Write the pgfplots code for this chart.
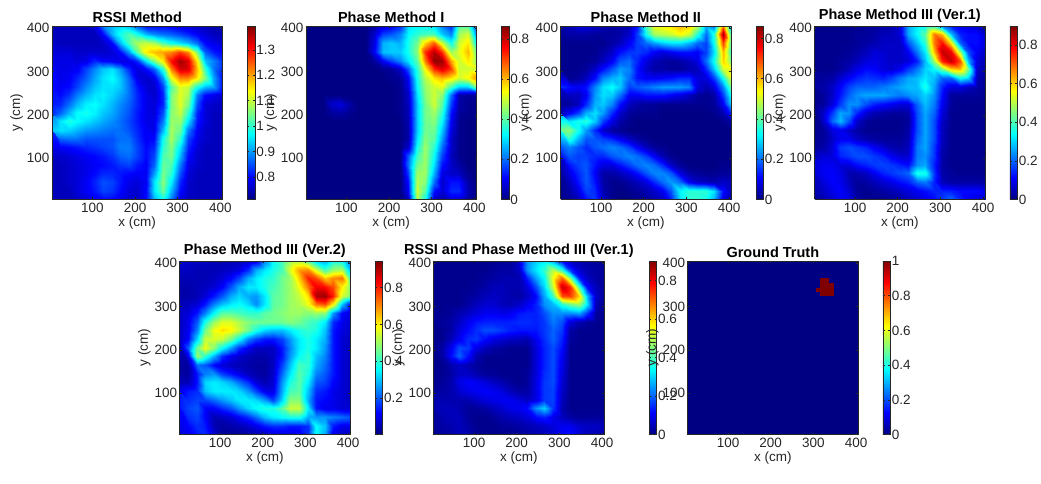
\documentclass[border=0pt]{standalone}
\usepackage{fontspec}
\setmainfont{Liberation Sans}
\usepackage{pgfplots}
\pgfplotsset{compat=1.18}
\pgfkeys{/pgf/number format/assume math mode=true}
\definecolor{axgray}{rgb}{0.15,0.15,0.15}
\definecolor{jetzero}{rgb}{0,0,0.5156}
\newcommand{\tf}{\fontsize{13.6}{15}\selectfont}
\pgfplotsset{
 colormap={mjet}{rgb255(0cm)=(0,0,132); rgb255(1cm)=(0,0,255); rgb255(3cm)=(0,255,255); rgb255(5cm)=(255,255,0); rgb255(7cm)=(255,0,0); rgb255(8cm)=(128,0,0)},
 hm/.style={
  scale only axis, width=172pt, height=175pt, anchor=south west,
  xmin=5, xmax=405, ymin=5, ymax=405,
  xtick={100,200,300,400}, ytick={100,200,300,400},
  tick align=inside, major tick length=2pt, axis on top, view={0}{90},
  axis line style={axgray,line width=0.5pt}, tick style={axgray,line width=0.5pt},
  tick label style={font=\tf,text=axgray},
  label style={font=\tf,text=axgray},
  xlabel={x (cm)}, ylabel={y (cm)},
  xlabel style={yshift=3pt}, ylabel style={yshift=-3pt},
  xticklabel style={yshift=0pt}, yticklabel style={xshift=1pt},
  title style={font=\fontsize{14.6}{16}\selectfont\bfseries,yshift=-6pt,text=black},
  colormap name=mjet,
  colorbar, colorbar shift/.style={xshift=12.5pt},
 },
 cb/.style n args={3}{point meta min=#1, point meta max=#2,
  colorbar style={width=7.5pt, ytick={#3}, tick align=inside, major tick length=2pt,
   axis line style={axgray,line width=0.5pt}, tick style={axgray,line width=0.5pt},
   tick label style={font=\tf,text=axgray}, yticklabel style={xshift=-2pt},
   /pgf/number format/fixed, /pgf/number format/precision=1}},
 grid21/.style={surf, shader=interp, mesh/cols=21},
 table/grid21tab/.style={row sep=\\, header=false, x expr={5+20*mod(\coordindex,21)}, y expr={405-20*floor(\coordindex/21)}, z expr={\thisrowno{0}/100}},
}
\begin{document}
\begin{tikzpicture}
\path (0,0) rectangle (1041pt,487pt);
% RSSI Method
\begin{axis}[hm, at={(52.3pt,286pt)}, title={RSSI Method}, cb={0.711}{1.395}{0.8,0.9,1,1.1,1.2,1.3}]
\addplot3[grid21] table[grid21tab]{
75\\75\\75\\75\\75\\78\\88\\92\\94\\92\\86\\80\\80\\80\\79\\78\\77\\76\\75\\74\\74\\
75\\75\\75\\75\\75\\75\\80\\92\\98\\102\\98\\92\\89\\87\\86\\84\\82\\79\\77\\75\\75\\
76\\75\\75\\75\\75\\75\\76\\80\\92\\102\\108\\110\\108\\102\\98\\95\\92\\87\\80\\78\\76\\
77\\77\\77\\76\\76\\76\\76\\77\\80\\90\\103\\115\\118\\120\\122\\127\\122\\105\\86\\81\\80\\
78\\78\\78\\77\\78\\82\\80\\79\\78\\78\\82\\95\\105\\115\\130\\137\\133\\115\\93\\88\\83\\
79\\78\\78\\79\\84\\89\\93\\95\\90\\82\\77\\80\\86\\100\\122\\134\\133\\118\\100\\87\\82\\
80\\78\\79\\82\\86\\91\\95\\97\\93\\86\\78\\76\\78\\90\\112\\122\\122\\115\\105\\90\\80\\
80\\79\\80\\84\\89\\93\\95\\95\\93\\87\\81\\77\\76\\84\\102\\112\\110\\98\\92\\90\\80\\
80\\80\\83\\88\\92\\95\\96\\94\\91\\87\\82\\78\\76\\82\\105\\112\\108\\88\\80\\78\\76\\
81\\82\\87\\92\\96\\97\\95\\92\\89\\86\\82\\78\\77\\82\\105\\112\\105\\85\\77\\76\\75\\
82\\86\\92\\97\\98\\96\\93\\91\\88\\85\\81\\78\\77\\85\\106\\110\\100\\82\\77\\75\\75\\
88\\95\\99\\97\\95\\93\\91\\89\\87\\84\\81\\78\\78\\88\\107\\107\\95\\81\\77\\75\\75\\
93\\95\\94\\92\\90\\89\\88\\87\\87\\85\\82\\79\\78\\92\\108\\104\\88\\79\\76\\75\\75\\
83\\86\\87\\87\\85\\85\\85\\85\\87\\87\\83\\79\\80\\98\\108\\100\\84\\78\\76\\75\\75\\
78\\79\\80\\81\\82\\83\\84\\85\\88\\88\\84\\80\\82\\100\\106\\95\\82\\77\\75\\75\\75\\
76\\76\\77\\78\\79\\80\\81\\83\\86\\87\\84\\80\\84\\102\\105\\92\\80\\76\\75\\75\\75\\
75\\75\\76\\77\\78\\79\\80\\81\\83\\84\\81\\79\\86\\104\\102\\88\\78\\76\\75\\75\\75\\
75\\75\\76\\77\\78\\80\\82\\82\\81\\80\\79\\79\\90\\105\\100\\85\\77\\75\\75\\75\\75\\
75\\75\\76\\77\\79\\82\\85\\84\\81\\78\\77\\79\\95\\106\\96\\82\\76\\75\\75\\75\\75\\
75\\75\\75\\77\\79\\81\\84\\83\\80\\77\\76\\80\\95\\104\\92\\80\\76\\75\\75\\75\\75\\
75\\75\\75\\76\\77\\79\\80\\80\\78\\76\\76\\80\\92\\98\\88\\78\\75\\75\\75\\75\\75\\
};
\end{axis}
% Phase Method I
\begin{axis}[hm, at={(308.3pt,286pt)}, title={Phase Method I}, cb={0}{0.866}{0,0.2,0.4,0.6,0.8}]
\addplot3[grid21] table[grid21tab]{
0\\0\\0\\0\\0\\0\\0\\0\\2\\8\\10\\14\\30\\32\\33\\30\\22\\14\\40\\40\\14\\
0\\0\\0\\0\\0\\0\\0\\0\\6\\16\\18\\22\\32\\36\\38\\38\\28\\22\\46\\50\\20\\
0\\0\\0\\0\\0\\0\\0\\0\\8\\26\\28\\26\\34\\42\\58\\68\\50\\34\\50\\56\\30\\
0\\0\\0\\0\\0\\0\\0\\0\\10\\27\\28\\28\\34\\44\\72\\82\\72\\46\\52\\60\\40\\
0\\0\\0\\0\\0\\0\\0\\0\\2\\10\\16\\22\\30\\40\\65\\85\\84\\62\\50\\56\\44\\
0\\0\\0\\0\\0\\0\\0\\0\\0\\1\\2\\6\\18\\36\\54\\72\\78\\70\\50\\50\\50\\
0\\0\\0\\0\\0\\0\\0\\0\\0\\0\\1\\2\\10\\34\\48\\56\\60\\56\\50\\54\\64\\
0\\0\\0\\0\\0\\0\\0\\0\\0\\0\\0\\1\\8\\32\\45\\50\\52\\38\\28\\28\\44\\
0\\0\\0\\0\\0\\0\\0\\0\\0\\0\\0\\1\\6\\30\\44\\50\\44\\20\\3\\2\\2\\
0\\0\\0\\6\\8\\3\\0\\0\\0\\0\\0\\1\\5\\28\\42\\50\\40\\16\\3\\1\\1\\
0\\0\\0\\2\\3\\1\\0\\0\\0\\0\\0\\1\\4\\28\\42\\46\\36\\12\\2\\1\\1\\
0\\0\\0\\0\\0\\0\\0\\0\\0\\0\\0\\0\\4\\28\\42\\44\\32\\10\\1\\0\\0\\
0\\0\\0\\0\\0\\0\\0\\0\\0\\0\\0\\0\\3\\28\\42\\42\\28\\8\\1\\0\\0\\
0\\0\\0\\0\\0\\0\\0\\0\\0\\0\\0\\0\\3\\30\\44\\40\\24\\6\\1\\0\\0\\
0\\0\\0\\0\\0\\0\\0\\0\\0\\0\\0\\0\\6\\34\\46\\36\\20\\6\\1\\0\\0\\
0\\0\\0\\0\\0\\0\\0\\0\\0\\0\\0\\0\\18\\38\\46\\33\\16\\5\\1\\0\\0\\
0\\0\\0\\0\\0\\0\\0\\0\\0\\0\\0\\0\\20\\42\\46\\30\\12\\6\\3\\0\\0\\
0\\0\\0\\0\\0\\0\\0\\0\\0\\0\\0\\0\\16\\46\\46\\26\\8\\6\\5\\1\\0\\
0\\0\\0\\0\\0\\0\\0\\0\\0\\0\\0\\0\\12\\48\\44\\20\\6\\12\\12\\3\\0\\
0\\0\\0\\0\\0\\0\\0\\0\\0\\0\\0\\0\\10\\50\\40\\12\\7\\14\\14\\4\\0\\
0\\0\\0\\0\\0\\0\\0\\0\\0\\0\\0\\0\\6\\48\\34\\6\\3\\8\\8\\2\\0\\
};
\end{axis}
% Phase Method II
\begin{axis}[hm, at={(565pt,286pt)}, title={Phase Method II}, cb={0}{0.863}{0,0.2,0.4,0.6,0.8}]
\addplot3[grid21] table[grid21tab]{
3\\5\\8\\8\\6\\4\\3\\3\\4\\12\\38\\52\\54\\56\\60\\58\\48\\25\\20\\65\\28\\
2\\3\\3\\3\\2\\2\\2\\3\\6\\16\\34\\46\\48\\50\\54\\50\\36\\20\\36\\84\\35\\
1\\1\\1\\1\\1\\1\\3\\5\\10\\16\\20\\24\\28\\30\\30\\26\\20\\16\\34\\70\\38\\
1\\1\\1\\1\\1\\3\\6\\12\\15\\16\\14\\10\\8\\10\\12\\12\\10\\16\\30\\60\\36\\
1\\1\\1\\1\\2\\5\\10\\18\\20\\14\\8\\4\\3\\2\\3\\5\\8\\20\\34\\58\\42\\
1\\1\\1\\2\\6\\12\\18\\24\\22\\12\\6\\3\\3\\2\\2\\4\\5\\14\\28\\50\\52\\
1\\1\\2\\5\\12\\22\\26\\28\\20\\12\\10\\10\\11\\12\\14\\14\\8\\8\\16\\34\\52\\
14\\12\\10\\12\\22\\30\\33\\28\\16\\18\\20\\22\\24\\24\\24\\22\\8\\4\\8\\22\\42\\
6\\5\\5\\10\\24\\30\\28\\20\\10\\10\\12\\12\\12\\10\\8\\5\\2\\1\\3\\16\\34\\
2\\2\\5\\14\\26\\28\\22\\12\\5\\3\\2\\2\\1\\1\\1\\1\\1\\1\\2\\10\\28\\
4\\10\\16\\26\\30\\24\\14\\6\\2\\1\\1\\1\\0\\0\\0\\0\\0\\0\\1\\4\\14\\
24\\30\\34\\36\\28\\16\\8\\3\\1\\0\\0\\0\\0\\0\\0\\0\\0\\0\\0\\1\\3\\
42\\44\\34\\24\\14\\6\\2\\1\\0\\0\\0\\0\\0\\0\\0\\0\\0\\0\\0\\0\\0\\
34\\36\\26\\18\\18\\16\\14\\10\\6\\3\\1\\0\\0\\0\\0\\0\\0\\0\\0\\0\\0\\
18\\22\\18\\14\\18\\20\\22\\20\\16\\10\\5\\2\\1\\0\\0\\0\\0\\0\\0\\0\\0\\
12\\18\\16\\16\\14\\14\\18\\20\\22\\20\\16\\10\\4\\1\\0\\0\\0\\0\\0\\0\\0\\
6\\12\\16\\18\\12\\8\\8\\12\\16\\20\\22\\20\\14\\6\\2\\0\\0\\0\\0\\1\\1\\
3\\8\\14\\18\\10\\3\\3\\5\\8\\12\\18\\22\\22\\18\\8\\3\\2\\1\\1\\2\\2\\
2\\5\\12\\18\\12\\3\\1\\1\\3\\5\\8\\14\\20\\24\\20\\10\\6\\5\\4\\6\\5\\
1\\3\\8\\16\\14\\4\\1\\0\\1\\2\\4\\6\\10\\18\\32\\36\\36\\36\\30\\12\\5\\
1\\2\\5\\12\\15\\6\\1\\0\\0\\1\\2\\4\\6\\14\\30\\36\\36\\34\\26\\8\\2\\
};
\end{axis}
% Phase Method III (Ver.1)
\begin{axis}[hm, at={(821pt,286pt)}, title={Phase Method III (Ver.1)}, cb={0}{0.9}{0,0.2,0.4,0.6,0.8}]
\addplot3[grid21] table[grid21tab]{
1\\1\\1\\1\\1\\1\\2\\2\\3\\4\\8\\26\\32\\34\\38\\24\\14\\10\\8\\6\\3\\
1\\1\\1\\1\\1\\2\\2\\3\\5\\5\\8\\26\\34\\42\\68\\62\\28\\14\\12\\12\\6\\
1\\1\\1\\1\\1\\2\\3\\4\\6\\6\\6\\18\\28\\38\\68\\78\\58\\20\\12\\12\\8\\
1\\1\\1\\1\\2\\3\\5\\8\\7\\6\\6\\10\\22\\32\\62\\84\\80\\48\\18\\10\\6\\
1\\1\\1\\2\\3\\5\\8\\9\\8\\6\\6\\8\\14\\28\\48\\76\\84\\72\\28\\8\\4\\
1\\1\\1\\2\\5\\9\\12\\11\\8\\7\\10\\16\\22\\30\\34\\44\\60\\62\\44\\6\\3\\
2\\2\\3\\7\\11\\14\\16\\15\\14\\17\\22\\26\\28\\32\\28\\20\\20\\34\\30\\4\\2\\
3\\3\\6\\11\\17\\20\\20\\20\\22\\24\\26\\28\\28\\36\\26\\14\\8\\8\\5\\3\\2\\
1\\2\\6\\13\\20\\24\\26\\26\\26\\24\\22\\24\\26\\30\\24\\12\\2\\2\\2\\2\\1\\
1\\2\\8\\16\\24\\24\\18\\14\\12\\10\\8\\8\\20\\28\\22\\10\\2\\1\\1\\1\\1\\
1\\6\\16\\26\\24\\14\\7\\4\\3\\2\\2\\3\\18\\26\\20\\8\\1\\1\\1\\1\\1\\
1\\6\\20\\28\\18\\6\\2\\1\\1\\1\\1\\2\\18\\26\\18\\6\\1\\1\\1\\1\\1\\
1\\2\\8\\10\\6\\3\\1\\1\\1\\1\\1\\3\\18\\26\\18\\5\\1\\1\\1\\1\\1\\
1\\2\\6\\10\\10\\6\\4\\3\\2\\2\\2\\4\\20\\26\\18\\5\\1\\1\\1\\1\\1\\
2\\3\\8\\16\\18\\16\\14\\10\\7\\4\\3\\5\\22\\26\\16\\4\\1\\1\\1\\1\\1\\
5\\8\\8\\14\\16\\18\\18\\16\\14\\10\\7\\7\\22\\24\\16\\3\\1\\1\\1\\1\\1\\
8\\10\\10\\8\\8\\12\\14\\16\\17\\16\\14\\12\\24\\26\\14\\3\\1\\1\\1\\1\\1\\
8\\10\\11\\9\\4\\4\\6\\10\\14\\16\\18\\20\\36\\36\\16\\3\\2\\1\\1\\1\\1\\
6\\8\\11\\10\\5\\2\\3\\5\\7\\9\\12\\14\\20\\22\\14\\5\\3\\3\\3\\3\\3\\
4\\6\\9\\11\\7\\2\\1\\2\\3\\4\\6\\8\\10\\12\\14\\14\\14\\12\\12\\12\\10\\
2\\4\\7\\10\\9\\3\\1\\1\\1\\2\\3\\5\\7\\9\\12\\16\\20\\14\\10\\8\\6\\
};
\end{axis}
% Phase Method III (Ver.2)
\begin{axis}[hm, at={(181pt,49pt)}, title={Phase Method III (Ver.2)}, cb={0.003}{0.944}{0.2,0.4,0.6,0.8}]
\addplot3[grid21] table[grid21tab]{
8\\7\\6\\6\\5\\5\\5\\5\\7\\10\\25\\36\\42\\50\\52\\44\\32\\28\\38\\36\\22\\
6\\6\\5\\5\\5\\6\\7\\9\\16\\28\\34\\38\\42\\56\\68\\70\\56\\42\\50\\52\\30\\
5\\5\\5\\5\\6\\8\\12\\18\\28\\34\\38\\40\\46\\50\\64\\80\\76\\64\\70\\72\\42\\
4\\4\\5\\6\\8\\12\\20\\28\\34\\34\\38\\42\\46\\50\\58\\72\\84\\82\\76\\60\\48\\
4\\4\\5\\8\\14\\20\\28\\32\\28\\26\\34\\44\\46\\50\\54\\62\\90\\92\\80\\55\\48\\
5\\6\\8\\14\\24\\30\\34\\36\\32\\25\\34\\44\\46\\50\\52\\58\\72\\76\\60\\30\\14\\
6\\8\\14\\24\\36\\44\\44\\42\\40\\40\\44\\46\\48\\50\\50\\48\\50\\48\\26\\12\\8\\
6\\10\\20\\38\\50\\56\\56\\52\\48\\46\\46\\46\\46\\48\\46\\42\\40\\34\\16\\10\\8\\
6\\10\\24\\46\\58\\62\\60\\54\\46\\38\\32\\30\\30\\34\\38\\40\\38\\30\\14\\9\\7\\
6\\12\\32\\54\\56\\54\\46\\36\\24\\18\\14\\14\\18\\26\\34\\38\\34\\28\\14\\8\\6\\
5\\20\\46\\58\\48\\36\\26\\16\\10\\6\\6\\6\\14\\24\\34\\38\\34\\26\\14\\8\\6\\
5\\10\\50\\40\\28\\16\\10\\7\\5\\4\\4\\6\\14\\26\\36\\40\\30\\24\\14\\8\\6\\
3\\3\\22\\20\\12\\8\\6\\5\\4\\3\\3\\6\\18\\30\\42\\40\\28\\22\\14\\8\\6\\
2\\3\\14\\24\\26\\18\\14\\10\\6\\4\\3\\7\\22\\34\\44\\38\\24\\20\\14\\8\\6\\
5\\5\\14\\32\\34\\32\\28\\22\\16\\8\\5\\8\\26\\38\\44\\34\\20\\18\\12\\8\\6\\
10\\14\\16\\30\\34\\34\\34\\32\\26\\18\\10\\10\\28\\42\\44\\30\\16\\14\\10\\8\\6\\
14\\16\\18\\18\\22\\26\\30\\34\\34\\32\\26\\18\\32\\48\\48\\28\\14\\12\\10\\8\\6\\
14\\18\\20\\12\\12\\16\\20\\26\\32\\36\\38\\38\\44\\54\\54\\34\\14\\10\\10\\8\\8\\
12\\16\\18\\12\\5\\6\\8\\12\\16\\22\\30\\34\\36\\38\\38\\28\\26\\26\\24\\22\\20\\
10\\12\\16\\14\\5\\3\\4\\5\\7\\10\\14\\16\\16\\14\\14\\16\\36\\30\\14\\10\\10\\
8\\10\\14\\16\\8\\3\\2\\2\\3\\4\\5\\7\\8\\8\\10\\16\\36\\28\\10\\6\\6\\
};
\end{axis}
% RSSI and Phase Method III (Ver.1)
\begin{axis}[hm, at={(437pt,49pt)}, title={RSSI and Phase Method III (Ver.1)}, cb={0}{0.903}{0,0.2,0.4,0.6,0.8}]
\addplot3[grid21] table[grid21tab]{
1\\1\\1\\1\\1\\1\\1\\1\\2\\2\\8\\24\\30\\32\\26\\12\\6\\4\\3\\2\\1\\
1\\1\\1\\1\\1\\1\\1\\2\\3\\3\\6\\24\\32\\38\\50\\38\\16\\7\\4\\3\\2\\
1\\1\\1\\1\\1\\1\\2\\3\\4\\4\\4\\14\\26\\34\\56\\70\\46\\14\\6\\3\\2\\
1\\1\\1\\1\\1\\2\\3\\5\\5\\4\\4\\8\\18\\30\\52\\84\\76\\40\\12\\5\\2\\
1\\1\\1\\1\\2\\3\\5\\6\\5\\4\\3\\6\\12\\26\\40\\72\\74\\60\\28\\6\\2\\
1\\1\\1\\1\\3\\5\\7\\7\\5\\4\\6\\10\\14\\24\\28\\38\\44\\48\\32\\4\\1\\
1\\1\\2\\4\\6\\8\\10\\10\\9\\10\\13\\14\\14\\18\\24\\24\\24\\26\\16\\2\\1\\
2\\2\\3\\6\\10\\13\\14\\14\\14\\14\\15\\15\\14\\16\\22\\18\\8\\4\\2\\1\\1\\
1\\1\\3\\8\\12\\15\\18\\18\\16\\14\\13\\13\\13\\16\\20\\16\\3\\1\\1\\1\\1\\
1\\1\\5\\10\\15\\16\\12\\9\\7\\6\\5\\4\\10\\15\\20\\14\\2\\1\\1\\1\\1\\
1\\3\\10\\18\\16\\9\\5\\3\\2\\1\\1\\1\\8\\14\\18\\12\\1\\1\\1\\1\\1\\
1\\3\\12\\20\\12\\4\\1\\1\\1\\1\\1\\1\\8\\14\\18\\10\\1\\1\\1\\1\\1\\
1\\1\\4\\6\\4\\2\\1\\1\\1\\1\\1\\1\\8\\14\\18\\9\\1\\1\\1\\1\\1\\
1\\1\\3\\6\\6\\4\\2\\2\\1\\1\\1\\2\\8\\15\\18\\8\\1\\1\\1\\1\\1\\
1\\2\\4\\9\\11\\10\\8\\6\\4\\2\\1\\2\\9\\16\\18\\7\\1\\1\\1\\1\\1\\
2\\3\\4\\7\\9\\10\\11\\10\\8\\5\\3\\3\\9\\16\\17\\6\\1\\1\\1\\1\\1\\
3\\4\\4\\4\\4\\6\\8\\9\\10\\10\\8\\6\\9\\16\\17\\5\\1\\1\\1\\1\\1\\
4\\5\\5\\4\\2\\2\\3\\5\\7\\9\\10\\12\\24\\30\\16\\4\\1\\1\\1\\1\\1\\
3\\4\\5\\5\\2\\1\\1\\2\\4\\5\\6\\8\\12\\14\\9\\5\\3\\2\\2\\2\\2\\
2\\3\\4\\5\\3\\1\\1\\1\\2\\2\\3\\4\\5\\6\\8\\10\\10\\7\\6\\6\\5\\
1\\2\\3\\5\\4\\2\\1\\1\\1\\1\\2\\3\\4\\5\\7\\10\\12\\8\\5\\4\\3\\
};
\end{axis}
% Ground Truth
\begin{axis}[hm, at={(693pt,49pt)}, title={Ground Truth}, cb={0}{1}{0,0.2,0.4,0.6,0.8,1}, axis background/.style={fill=jetzero}]
\addplot[matrix plot*, mesh/cols=4, point meta=explicit] table[meta index=2]{
312 330 0
322 330 1
332 330 1
342 330 1
312 340 1
322 340 1
332 340 1
342 340 1
312 350 0
322 350 1
332 350 1
342 350 1
312 360 0
322 360 1
332 360 1
342 360 0
};
\end{axis}
\end{tikzpicture}
\end{document}
